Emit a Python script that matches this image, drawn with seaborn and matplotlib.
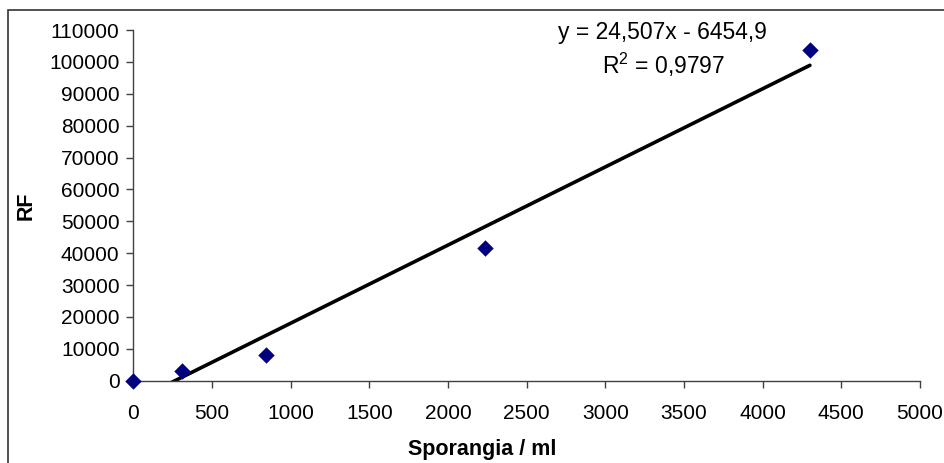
import numpy as np
import pandas as pd
import matplotlib
matplotlib.use("Agg")
import matplotlib.pyplot as plt
from matplotlib.patches import Rectangle
import seaborn as sns

# Calibration data: sporangia concentration vs. relative fluorescence
sporangia = [0, 310, 840, 2235, 4300]
rf = [0, 3100, 8100, 41500, 103600]

# Linear trendline coefficients
slope = 24.507
intercept = -6454.9
r_squared = 0.9797

x_ticks = [0, 500, 1000, 1500, 2000, 2500, 3000, 3500, 4000, 4500, 5000]
y_ticks = [0, 10000, 20000, 30000, 40000, 50000, 60000, 70000, 80000, 90000, 100000, 110000]

sns.set_style("white")
plt.rcParams["font.family"] = ["Liberation Sans", "DejaVu Sans"]
plt.rcParams["mathtext.fontset"] = "custom"
plt.rcParams["mathtext.rm"] = "Liberation Sans"
plt.rcParams["mathtext.it"] = "Liberation Sans:italic"
plt.rcParams["text.color"] = "black"

FS = 15
FS_EQ = 16.5

fig = plt.figure(figsize=(9.44, 4.63), dpi=100)
ax = fig.add_axes([0.1414, 0.1777, 0.8332, 0.7575])

df = pd.DataFrame({"Sporangia": sporangia, "RF": rf})

# Trendline across the data range
x_line = np.array([min(sporangia), max(sporangia)])
line_df = pd.DataFrame({"x": x_line, "y": slope * x_line + intercept})
sns.lineplot(data=line_df, x="x", y="y", ax=ax, color="black", linewidth=2.6, zorder=2)

sns.scatterplot(data=df, x="Sporangia", y="RF", ax=ax, marker="D", s=70,
                color="#000080", edgecolor="#000080", linewidth=0, zorder=3, clip_on=False)

ax.set_xlim(0, 5000)
ax.set_ylim(0, 110000)
ax.set_xticks(x_ticks)
ax.set_yticks(y_ticks)
ax.set_xticklabels([str(v) for v in x_ticks])
ax.set_yticklabels([str(v) for v in y_ticks])

for side in ["top", "right"]:
    ax.spines[side].set_visible(False)
for side in ["left", "bottom"]:
    ax.spines[side].set_color("#404040")
    ax.spines[side].set_linewidth(1.0)

ax.tick_params(axis="both", which="major", direction="out", length=5, width=1.0,
               color="#404040", labelsize=FS, labelcolor="black")
ax.tick_params(axis="y", pad=5)
ax.tick_params(axis="x", pad=12)
ax.tick_params(left=True, bottom=True)

ax.set_xlabel("Sporangia / ml", fontsize=15.5, fontweight="bold", color="black")
ax.set_ylabel("RF", fontsize=15.5, fontweight="bold", color="black")
ax.xaxis.set_label_coords((482 - 133.5) / (920 - 133.5), -(449 - 380.7) / 350.7)
ax.yaxis.set_label_coords((26 - 133.5) / (920 - 133.5), 0.5)
ax.xaxis.label.set_va("center")
ax.yaxis.label.set_va("center")

# Trendline equation and fit quality
fig.text(662 / 944, 1 - 32 / 463, "y = 24,507x - 6454,9", ha="center", va="center", fontsize=FS_EQ)
fig.text(664 / 944, 1 - 65 / 463, "R$^{2}$ = 0,9797", ha="center", va="center", fontsize=FS_EQ)

# Chart-area frame
fig.patches.append(Rectangle((8 / 944, -0.05), 1.0, 1 - 10.5 / 463 + 0.05,
                             transform=fig.transFigure, fill=False,
                             edgecolor="#333333", linewidth=1.2))

fig.savefig("out.png", dpi=100)
